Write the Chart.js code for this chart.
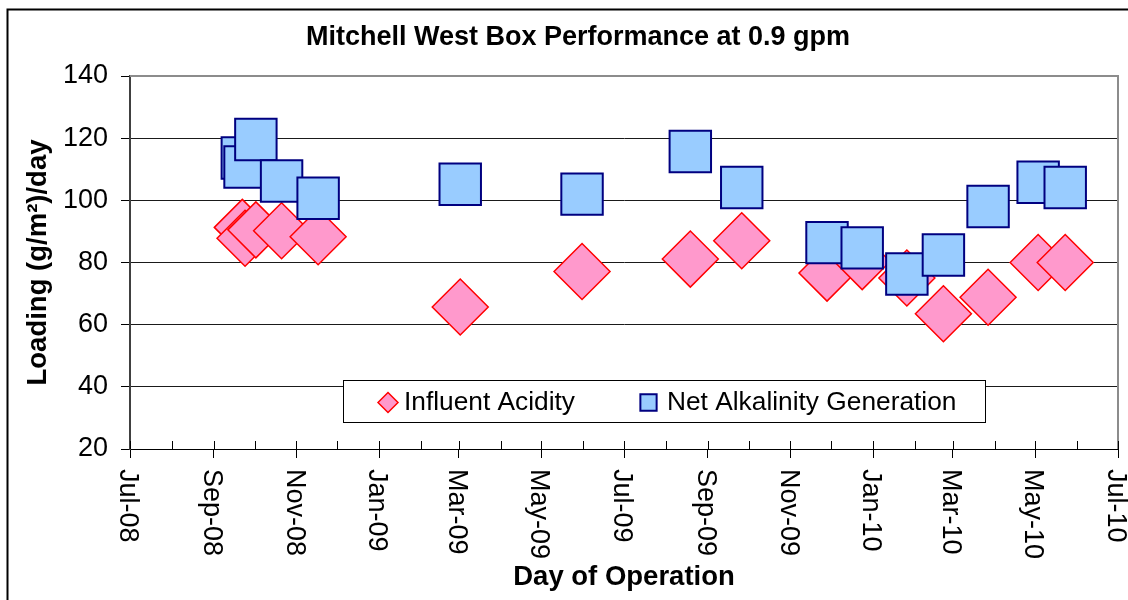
<!DOCTYPE html>
<html>
<head>
<meta charset="utf-8">
<title>Mitchell West Box Performance at 0.9 gpm</title>
<script src="https://cdn.jsdelivr.net/npm/chart.js@4/dist/chart.umd.min.js"></script>
<style>
  html, body { margin: 0; padding: 0; background: #fff; }
  canvas { display: block; }
</style>
</head>
<body>
<canvas id="chart" width="1128" height="600"></canvas>
<script>
// sample days
const sampleDates = ['2008-09-22', '2008-09-24', '2008-10-02', '2008-10-21', '2008-11-17', '2009-03-02', '2009-05-31', '2009-08-19',
    '2009-09-26', '2009-11-28', '2009-12-24', '2010-01-26', '2010-02-22', '2010-03-27', '2010-05-03', '2010-05-23'];
const influentAcidity = [91.3, 87.8, 90.5, 90.2, 88.3, 65.7, 77.1, 81.1, 87.0, 76.6, 80.3, 75.0, 63.5, 68.8, 80.0, 80.0];
const netAlkalinity = [113.6, 110.7, 119.6, 106.2, 100.7, 105.2, 102.0, 115.7, 104.1, 86.4, 84.7, 76.3, 82.4, 98.0, 105.8, 104.1];
const xTickLabels = ['Jul-08', 'Sep-08', 'Nov-08', 'Jan-09', 'Mar-09', 'May-09', 'Jul-09', 'Sep-09', 'Nov-09', 'Jan-10', 'Mar-10', 'May-10', 'Jul-10'];
const yMin = 20, yMax = 140, yStep = 20;

const DAY = 86400000;
const origin = Date.UTC(2008, 6, 1);
const toDay = iso => (Date.parse(iso) - origin) / DAY;

// one tick per month, every other one is labelled
const monthTicks = [];
for (let i = 0; i <= 24; i++) monthTicks.push((Date.UTC(2008, 6 + i, 1) - origin) / DAY);

const FONT = "'Liberation Sans', Arial, Helvetica, sans-serif";
Chart.defaults.font.family = FONT;
Chart.defaults.color = '#000';

const decorations = {
    id: 'decorations',
    beforeDraw(chart) {
        const ctx = chart.ctx;
        ctx.save();
        ctx.fillStyle = '#fff';
        ctx.fillRect(0, 0, chart.width, chart.height);
        ctx.strokeStyle = '#000';
        ctx.lineWidth = 2;
        ctx.strokeRect(7.5, 9.5, chart.width + 40, chart.height + 40);
        ctx.restore();
    },
    afterDraw(chart) {
        const { ctx, chartArea: area, scales: { x } } = chart;
        ctx.save();

        // plot area border, top and right
        ctx.strokeStyle = '#8c8c8c';
        ctx.lineWidth = 2;
        ctx.beginPath();
        ctx.moveTo(area.left, area.top);
        ctx.lineTo(area.right, area.top);
        ctx.lineTo(area.right, area.bottom);
        ctx.stroke();

        // inner tick marks on the date axis
        ctx.strokeStyle = '#000';
        ctx.lineWidth = 1;
        ctx.beginPath();
        monthTicks.forEach(v => {
            const px = Math.round(x.getPixelForValue(v)) + 0.5;
            ctx.moveTo(px, area.bottom);
            ctx.lineTo(px, area.bottom - 8);
        });
        ctx.stroke();

        // date labels, turned clockwise
        ctx.fillStyle = '#000';
        ctx.font = '27px ' + FONT;
        ctx.textAlign = 'left';
        ctx.textBaseline = 'middle';
        xTickLabels.forEach((label, i) => {
            const px = x.getPixelForValue(monthTicks[i * 2]) - 2.5;
            ctx.save();
            ctx.translate(px, area.bottom + 20);
            ctx.rotate(Math.PI / 2);
            ctx.fillText(label, 0, 0);
            ctx.restore();
        });

        // legend box inside the plot
        const box = { left: area.left + 213, top: area.bottom - 69, width: 642, height: 42 };
        ctx.fillStyle = '#fff';
        ctx.fillRect(box.left, box.top, box.width, box.height);
        ctx.strokeStyle = '#000';
        ctx.lineWidth = 1;
        ctx.strokeRect(box.left + 0.5, box.top + 0.5, box.width, box.height);

        const items = [
            { ds: chart.data.datasets[0], marker: box.left + 45, text: box.left + 61, radius: 10 },
            { ds: chart.data.datasets[1], marker: box.left + 305.5, text: box.left + 324, radius: 11.5 }
        ];
        const midY = box.top + 22.5;
        ctx.textBaseline = 'alphabetic';
        ctx.font = '26.3px ' + FONT;
        items.forEach(item => {
            ctx.fillStyle = item.ds.pointBackgroundColor;
            ctx.strokeStyle = item.ds.pointBorderColor;
            ctx.lineWidth = item.ds.pointBorderWidth;
            Chart.helpers.drawPoint(ctx, { pointStyle: item.ds.pointStyle, radius: item.radius, borderWidth: item.ds.pointBorderWidth, rotation: 0 }, item.marker, midY);
            ctx.fillStyle = '#000';
            ctx.fillText(item.ds.label, item.text, box.top + 29.5);
        });

        ctx.restore();
    }
};

new Chart(document.getElementById('chart'), {
    type: 'scatter',
    data: {
        datasets: [
            {
                label: 'Influent Acidity',
                data: sampleDates.map((d, i) => ({ x: toDay(d), y: influentAcidity[i] })),
                pointStyle: 'rectRot',
                pointRadius: 28,
                pointHoverRadius: 28,
                pointBackgroundColor: '#ff99cc',
                pointBorderColor: '#ff0000',
                pointBorderWidth: 1.5,
                order: 1
            },
            {
                label: 'Net Alkalinity Generation',
                data: sampleDates.map((d, i) => ({ x: toDay(d), y: netAlkalinity[i] })),
                pointStyle: 'rect',
                pointRadius: 29.3,
                pointHoverRadius: 29.3,
                pointBackgroundColor: '#99ccff',
                pointBorderColor: '#000080',
                pointBorderWidth: 2,
                order: 0
            }
        ]
    },
    options: {
        responsive: false,
        animation: false,
        events: [],
        layout: { autoPadding: false, padding: { top: 10, left: 38, right: 10, bottom: 0 } },
        plugins: {
            legend: { display: false },
            tooltip: { enabled: false },
            title: {
                display: true,
                text: 'Mitchell West Box Performance at 0.9 gpm',
                color: '#000',
                font: { size: 27, weight: 'bold' },
                padding: { top: 11.5, bottom: 22.1 }
            }
        },
        scales: {
            x: {
                type: 'linear',
                min: 0,
                max: 730,
                afterBuildTicks: scale => { scale.ticks = monthTicks.map(v => ({ value: v })); },
                afterFit: scale => { scale.height = 151; },
                ticks: { display: false },
                grid: {
                    drawOnChartArea: false,
                    tickLength: 9,
                    tickWidth: 1,
                    tickColor: c => c.index % 2 === 0 ? '#000' : 'rgba(0,0,0,0)'
                },
                border: { color: '#000', width: 1 },
                title: {
                    display: true,
                    text: 'Day of Operation',
                    color: '#000',
                    font: { size: 27.5, weight: 'bold' },
                    padding: { top: 0, bottom: 6 }
                }
            },
            y: {
                min: yMin,
                max: yMax,
                afterFit: scale => { scale.width = 92; },
                ticks: { stepSize: yStep, color: '#000', font: { size: 27 }, padding: 13 },
                grid: {
                    color: c => c.tick && c.tick.value === yMax ? '#999' : '#1a1a1a',
                    tickColor: '#000',
                    tickLength: 9,
                    lineWidth: 1
                },
                border: { color: '#404040', width: 2 },
                title: {
                    display: true,
                    text: 'Loading (g/m²)/day',
                    color: '#000',
                    font: { size: 27.5, weight: 'bold' },
                    padding: { top: -16.5, bottom: 0 }
                }
            }
        }
    },
    plugins: [decorations]
});
</script>
</body>
</html>
